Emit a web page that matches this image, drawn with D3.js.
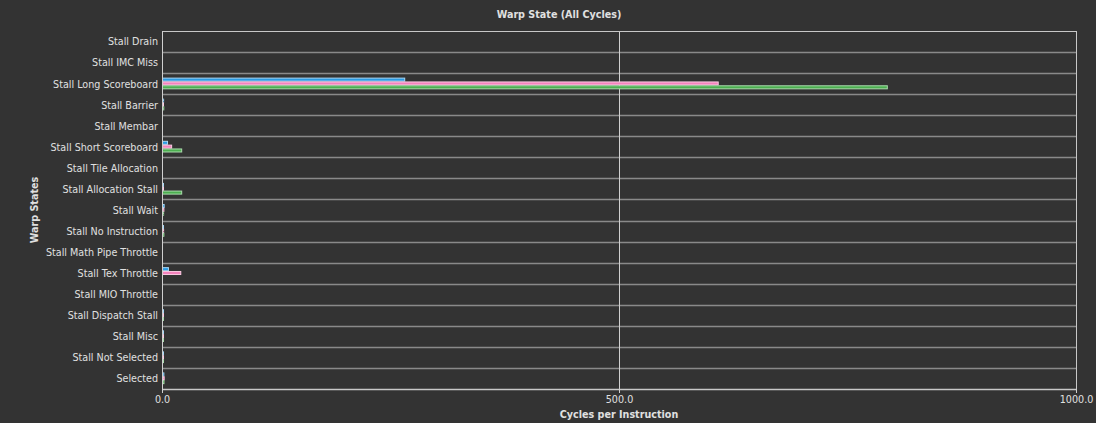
<!DOCTYPE html>
<html>
<head>
<meta charset="utf-8">
<script src="https://cdn.jsdelivr.net/npm/d3@7"></script>
<style>
  html, body { margin: 0; padding: 0; background: #333333; }
  svg { display: block; }
  text { font-family: "DejaVu Sans", sans-serif; fill: #e0e0e0; }
</style>
</head>
<body>
<div id="chart"></div>
<script>
// ── Datos ─────────────────────────────────────────────
const states = [
  'Stall Drain', 'Stall IMC Miss', 'Stall Long Scoreboard', 'Stall Barrier',
  'Stall Membar', 'Stall Short Scoreboard', 'Stall Tile Allocation',
  'Stall Allocation Stall', 'Stall Wait', 'Stall No Instruction',
  'Stall Math Pipe Throttle', 'Stall Tex Throttle', 'Stall MIO Throttle',
  'Stall Dispatch Stall', 'Stall Misc', 'Stall Not Selected', 'Selected'
];
const seriesNames = ['blue', 'pink', 'green'];
const blueValues  = [0, 0, 265, 1.2, 0, 5.5, 0, 0.4, 1.8, 1.0, 0, 6.5, 0, 0.6, 0.4, 0.4, 1.5];
const pinkValues  = [0, 0, 608, 1.0, 0, 10,  0, 1.0, 1.5, 1.2, 0, 20,  0, 0.5, 0.4, 0.4, 1.8];
const greenValues = [0, 0, 793, 1.4, 0, 21,  0, 21,  1.2, 1.5, 0, 0,   0, 0.5, 0.3, 0.3, 1.6];
const xTicks = [0, 500, 1000];

const colors = { blue: '#2b9be3', pink: '#f483bd', green: '#4caf50' };
const edges  = { blue: '#a6d6f5', pink: '#fbc9e2', green: '#aadcac' };

// ── Layout ────────────────────────────────────────────
const W = 1096, H = 423;
const margin = { top: 31, right: 20, bottom: 34, left: 162 };
const innerW = W - margin.left - margin.right;
const innerH = H - margin.top - margin.bottom;

const svg = d3.select('#chart').append('svg').attr('width', W).attr('height', H);
svg.append('rect').attr('width', W).attr('height', H).attr('fill', '#333333');

const g = svg.append('g').attr('transform', `translate(${margin.left},${margin.top})`);

const x = d3.scaleLinear().domain([0, 1000]).range([0, innerW]);
const y = d3.scaleBand().domain(states).range([0, innerH]);
const ySub = d3.scaleBand().domain(seriesNames).range([5, 16.5]).padding(0);

// Separadores de filas
g.selectAll('line.sep').data(states.slice(1)).join('line')
  .attr('class', 'sep')
  .attr('x1', 0).attr('x2', innerW)
  .attr('y1', d => Math.round(y(d)) + 0.5).attr('y2', d => Math.round(y(d)) + 0.5)
  .attr('stroke', '#8a8a8a').attr('stroke-width', 1.6);

// Rejilla vertical
g.selectAll('line.vgrid').data(xTicks.slice(1, -1)).join('line')
  .attr('class', 'vgrid')
  .attr('x1', d => x(d) + 0.5).attr('x2', d => x(d) + 0.5)
  .attr('y1', 0).attr('y2', innerH)
  .attr('stroke', '#d0d0d0').attr('stroke-width', 1);

// Barras
const series = [
  { key: 'blue', values: blueValues },
  { key: 'pink', values: pinkValues },
  { key: 'green', values: greenValues }
];
series.forEach(s => {
  g.append('g').selectAll('rect').data(s.values.map((v, i) => ({ v, cat: states[i] })))
    .join('rect')
    .filter(d => d.v > 0)
    .attr('x', 0.5)
    .attr('y', d => y(d.cat) + ySub(s.key))
    .attr('width', d => Math.max(1, x(d.v)))
    .attr('height', ySub.bandwidth() - 0.8)
    .attr('fill', colors[s.key])
    .attr('stroke', edges[s.key]).attr('stroke-width', 1);
});

// Borde del área
g.append('line').attr('x1', 0).attr('x2', innerW).attr('y1', 0.5).attr('y2', 0.5)
  .attr('stroke', '#c8c8c8');
g.append('line').attr('x1', 0).attr('x2', innerW).attr('y1', innerH + 0.5).attr('y2', innerH + 0.5)
  .attr('stroke', '#c8c8c8').attr('stroke-width', 1.5);
g.append('line').attr('x1', innerW + 0.5).attr('x2', innerW + 0.5).attr('y1', 0).attr('y2', innerH + 4)
  .attr('stroke', '#c8c8c8');

// Eje Y
g.append('line').attr('x1', 0.5).attr('x2', 0.5).attr('y1', 0).attr('y2', innerH + 4)
  .attr('stroke', '#d0d0d0');
g.selectAll('text.ylab').data(states).join('text')
  .attr('class', 'ylab')
  .attr('x', -4).attr('y', d => y(d) + y.bandwidth() / 2 + 0.5)
  .attr('dy', '0.35em').attr('text-anchor', 'end')
  .style('font-size', '9.6px')
  .text(d => d);

// Eje X
const xAxis = g.append('g').attr('transform', `translate(0,${innerH})`)
  .call(d3.axisBottom(x).tickValues(xTicks).tickFormat(d3.format('.1f')).tickSize(4));
xAxis.select('.domain').remove();
xAxis.selectAll('line').attr('stroke', '#d0d0d0');
xAxis.selectAll('text').style('font-size', '9.6px').attr('fill', '#e0e0e0')
  .style('font-family', '"DejaVu Sans", sans-serif');

// Títulos
svg.append('text').attr('x', 559).attr('y', 18).attr('text-anchor', 'middle')
  .style('font-size', '9.6px').style('font-weight', 'bold')
  .text('Warp State (All Cycles)');
svg.append('text').attr('x', margin.left + innerW / 2).attr('y', H - 5).attr('text-anchor', 'middle')
  .style('font-size', '9.6px').style('font-weight', 'bold')
  .text('Cycles per Instruction');
svg.append('text').attr('transform', `translate(38,${margin.top + innerH / 2}) rotate(-90)`)
  .attr('text-anchor', 'middle')
  .style('font-size', '9.6px').style('font-weight', 'bold')
  .text('Warp States');
</script>
</body>
</html>
